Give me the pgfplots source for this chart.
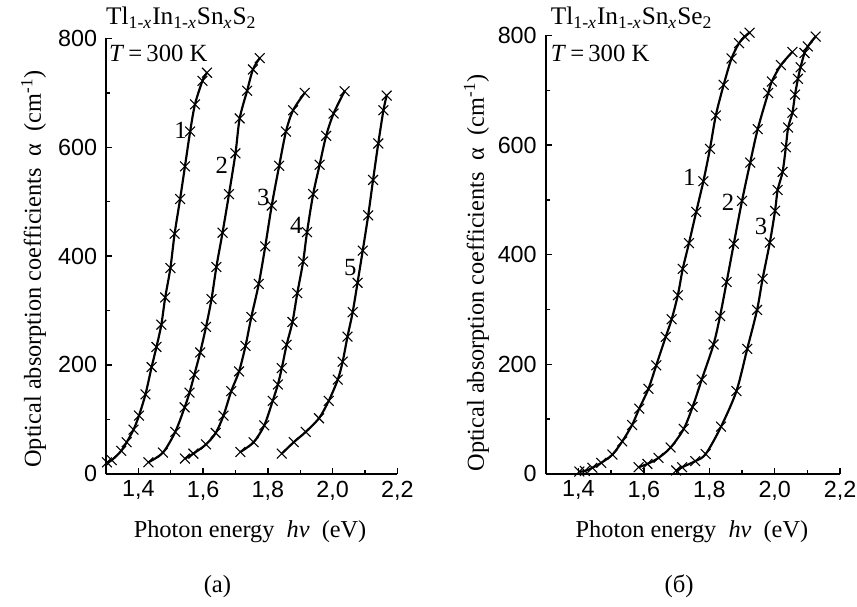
\documentclass[border=0pt]{standalone}
\usepackage{pgfplots}
\pgfplotsset{compat=1.18}
\usepackage{fontspec}
\setmainfont{Liberation Serif}
\newfontfamily\arial{Liberation Sans}
\begin{document}
\tikzset{lab/.style={font=\fontsize{12.5}{13}\selectfont, inner sep=0pt}}
\pgfplotsset{
  myax/.style={
    scale only axis,
    anchor=south west,
    xmin=1.3, xmax=2.2, ymin=0, ymax=800,
    axis lines=left,
    axis line style={-, line width=0.9pt},
    tick align=inside,
    xtick={1.4,1.6,1.8,2.0,2.2},
    ytick={0,200,400,600,800},
    minor x tick num=1,
    minor y tick num=1,
    major tick length=3pt,
    minor tick length=2pt,
    tick style={line width=0.7pt, black},
    /pgf/number format/assume math mode=true,
    tick label style={font=\arial\fontsize{11.8}{13}\selectfont},
    xticklabel style={/pgf/number format/.cd, use comma, fixed, fixed zerofill, precision=1},
    yticklabel style={/pgf/number format/.cd, fixed, precision=0},
    xticklabel shift=0pt,
    yticklabel shift=1pt,
    clip=false,
  },
  cur/.style={black, line width=1.1pt, smooth, tension=0.5, mark=x, mark size=3.5pt,
    mark options={line width=0.55pt, solid}},
}
\begin{tikzpicture}
\useasboundingbox (0,0) rectangle (428.5pt,307pt);
% left panel
\begin{axis}[myax, at={(48.6pt,67.35pt)}, width=147.4pt, height=220.2pt]
\addplot[cur] coordinates {(1.303,21)(1.318,25)(1.347,42)(1.364,58)(1.385,81)(1.402,107)(1.422,146)(1.441,196)(1.456,233)(1.471,274)(1.483,324)(1.499,378)(1.512,441)(1.529,505)(1.544,565)(1.560,629)(1.575,679)(1.598,722)(1.612,737)};
\addplot[cur] coordinates {(1.431,21)(1.476,39)(1.514,77)(1.543,122)(1.558,149)(1.573,182)(1.591,223)(1.609,270)(1.626,321)(1.641,380)(1.660,443)(1.680,514)(1.700,589)(1.713,653)(1.736,704)(1.754,743)(1.775,764)};
\addplot[cur] coordinates {(1.544,28)(1.570,37)(1.609,54)(1.639,75)(1.663,107)(1.687,152)(1.711,188)(1.731,235)(1.749,288)(1.772,349)(1.792,418)(1.812,493)(1.835,566)(1.856,629)(1.878,668)(1.914,700)};
\addplot[cur] coordinates {(1.715,40)(1.756,58)(1.789,89)(1.815,134)(1.831,164)(1.843,194)(1.858,237)(1.876,279)(1.891,332)(1.909,390)(1.921,444)(1.940,514)(1.960,568)(1.980,621)(2.003,662)(2.037,703)};
\addplot[cur] coordinates {(1.843,37)(1.880,58)(1.917,77)(1.958,102)(1.988,134)(2.016,173)(2.031,206)(2.046,252)(2.062,297)(2.077,351)(2.093,410)(2.110,475)(2.125,540)(2.141,607)(2.157,668)(2.167,695)};
\node[lab] at (axis cs:1.530,632) {1};
\node[lab] at (axis cs:1.658,566) {2};
\node[lab] at (axis cs:1.786,508) {3};
\node[lab] at (axis cs:1.888,457) {4};
\node[lab] at (axis cs:2.055,379) {5};
\end{axis}
% right panel
\begin{axis}[myax, at={(271pt,67.35pt)}, width=149pt, height=221.7pt]
\addplot[cur] coordinates {(1.403,4)(1.420,5)(1.443,11)(1.470,20)(1.504,35)(1.534,59)(1.564,89)(1.586,119)(1.614,155)(1.638,198)(1.667,250)(1.685,282)(1.704,326)(1.719,374)(1.738,421)(1.760,478)(1.782,534)(1.802,593)(1.820,654)(1.844,710)(1.868,758)(1.891,786)(1.908,798)(1.923,805)};
\addplot[cur] coordinates {(1.584,12)(1.611,18)(1.645,29)(1.682,48)(1.722,82)(1.749,122)(1.777,172)(1.813,236)(1.833,288)(1.853,350)(1.875,420)(1.900,498)(1.925,568)(1.948,629)(1.980,695)(1.991,716)(2.019,746)(2.054,770)};
\addplot[cur] coordinates {(1.699,6)(1.717,12)(1.757,23)(1.789,36)(1.836,86)(1.883,151)(1.916,228)(1.946,299)(1.963,356)(1.985,422)(2.001,480)(2.009,518)(2.024,551)(2.034,596)(2.041,632)(2.054,659)(2.062,692)(2.071,721)(2.079,742)(2.091,768)(2.101,780)(2.125,798)};
\node[lab] at (axis cs:1.739,541) {1};
\node[lab] at (axis cs:1.857,496) {2};
\node[lab] at (axis cs:1.958,451) {3};
\end{axis}
% titles
\node[anchor=base west, inner sep=0pt, font=\fontsize{12.8}{13}\selectfont] at (48.5pt,294.5pt) {Tl\textsubscript{1-\textit{x}}In\textsubscript{1-\textit{x}}Sn\textsubscript{\textit{x}}S\textsubscript{2}};
\node[anchor=base west, inner sep=0pt, font=\fontsize{12.5}{13}\selectfont] at (50pt,276pt) {\textit{T}\,=\,300 K};
\node[anchor=base west, inner sep=0pt, font=\fontsize{12.8}{13}\selectfont] at (273.5pt,294.5pt) {Tl\textsubscript{1-\textit{x}}In\textsubscript{1-\textit{x}}Sn\textsubscript{\textit{x}}Se\textsubscript{2}};
\node[anchor=base west, inner sep=0pt, font=\fontsize{12.5}{13}\selectfont] at (273.5pt,276pt) {\textit{T}\,=\,300 K};
% axis labels
\node[font=\fontsize{12.3}{13}\selectfont, rotate=90] at (12pt,171pt) {Optical absorption coefficients ~α~ (cm\textsuperscript{-1})};
\node[font=\fontsize{12.3}{13}\selectfont, rotate=90] at (236pt,169pt) {Optical absorption coefficients ~α~ (cm\textsuperscript{-1})};
\node[font=\fontsize{12.3}{13}\selectfont] at (121.5pt,38pt) {Photon energy ~\textit{hν}~ (eV)};
\node[font=\fontsize{12.3}{13}\selectfont] at (345pt,38pt) {Photon energy ~\textit{hν}~ (eV)};
\node[font=\fontsize{12.5}{13}\selectfont] at (105pt,10.5pt) {(a)};
\node[font=\fontsize{12.5}{13}\selectfont] at (338.5pt,10.5pt) {(б)};
\end{tikzpicture}
\end{document}
